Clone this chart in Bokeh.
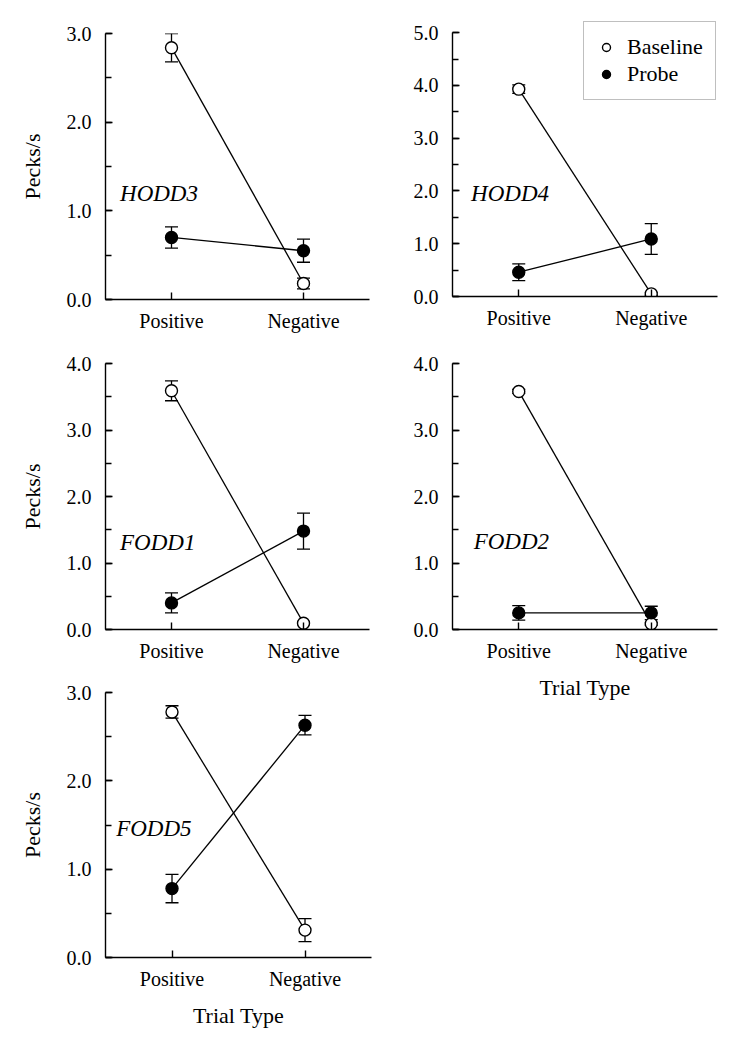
from bokeh.plotting import figure
from bokeh.models import (Range1d, FactorRange, SingleIntervalTicker, PrintfTickFormatter,
                          Whisker, TeeHead, ColumnDataSource, Label, Legend, LegendItem)
from bokeh.layouts import row, column
from bokeh.embed import file_html
from bokeh.resources import INLINE

FONT = "Liberation Serif"

trial_types = ["Positive", "Negative"]
panel_names = ["HODD3", "HODD4", "FODD1", "FODD2", "FODD5"]
y_max = [3.0, 5.0, 4.0, 4.0, 3.0]

# Baseline (open circles): mean and error per panel [Positive, Negative]
baseline_hodd3 = [2.84, 0.18]
baseline_hodd4 = [3.93, 0.05]
baseline_fodd1 = [3.59, 0.095]
baseline_fodd2 = [3.58, 0.085]
baseline_fodd5 = [2.78, 0.31]
baseline_err_hodd3 = [0.16, 0.06]
baseline_err_hodd4 = [0.08, 0.03]
baseline_err_fodd1 = [0.15, 0.02]
baseline_err_fodd2 = [0.03, 0.02]
baseline_err_fodd5 = [0.07, 0.13]

# Probe (filled circles)
probe_hodd3 = [0.70, 0.55]
probe_hodd4 = [0.46, 1.09]
probe_fodd1 = [0.40, 1.48]
probe_fodd2 = [0.25, 0.25]
probe_fodd5 = [0.78, 2.63]
probe_err_hodd3 = [0.12, 0.13]
probe_err_hodd4 = [0.16, 0.29]
probe_err_fodd1 = [0.15, 0.27]
probe_err_fodd2 = [0.11, 0.10]
probe_err_fodd5 = [0.16, 0.11]

baseline = [baseline_hodd3, baseline_hodd4, baseline_fodd1, baseline_fodd2, baseline_fodd5]
baseline_err = [baseline_err_hodd3, baseline_err_hodd4, baseline_err_fodd1, baseline_err_fodd2, baseline_err_fodd5]
probe = [probe_hodd3, probe_hodd4, probe_fodd1, probe_fodd2, probe_fodd5]
probe_err = [probe_err_hodd3, probe_err_hodd4, probe_err_fodd1, probe_err_fodd2, probe_err_fodd5]

# panel label placement (x in categorical synthetic units, y in data units)
label_x = [0.11, 0.14, 0.11, 0.16, 0.08]
label_y = [1.2, 1.95, 1.31, 1.32, 1.46]


def make_panel(i, fw, fh, bl, br, bt, bb, ylabel, xlabel, extra=0.0):
    p = figure(x_range=FactorRange(factors=trial_types, range_padding=0),
               y_range=Range1d(0, y_max[i] + extra),
               frame_width=fw, frame_height=fh,
               min_border_left=bl, min_border_right=br, min_border_top=bt, min_border_bottom=bb,
               output_backend="svg", toolbar_location=None, tools="")
    p.grid.visible = False
    p.outline_line_color = None
    p.background_fill_color = "white"
    p.border_fill_color = "white"

    ya = p.yaxis[0]
    ya.bounds = (0, y_max[i])
    ya.ticker = SingleIntervalTicker(interval=1, num_minor_ticks=2)
    ya.formatter = PrintfTickFormatter(format="%.1f")
    ya.major_tick_in = 7
    ya.major_tick_out = 0
    ya.minor_tick_in = 6
    ya.minor_tick_out = 0
    ya.major_label_standoff = 14
    ya.major_label_text_font = FONT
    ya.major_label_text_font_size = "20px"
    ya.major_label_text_color = "black"
    ya.axis_line_width = 1.4
    ya.major_tick_line_width = 1.4
    ya.minor_tick_line_width = 1.4
    ya.axis_line_color = "black"
    if ylabel:
        ya.axis_label = "Pecks/s"
        ya.axis_label_text_font = FONT
        ya.axis_label_text_font_size = "22px"
        ya.axis_label_text_font_style = "normal"
        ya.axis_label_text_color = "black"
        ya.axis_label_standoff = 19

    xa = p.xaxis[0]
    xa.major_tick_in = 7
    xa.major_tick_out = 0
    xa.major_label_standoff = 10
    xa.major_label_text_font = FONT
    xa.major_label_text_font_size = "20px"
    xa.major_label_text_color = "black"
    xa.axis_line_width = 1.4
    xa.major_tick_line_width = 1.4
    xa.axis_line_color = "black"
    if xlabel:
        xa.axis_label = "Trial Type"
        xa.axis_label_text_font = FONT
        xa.axis_label_text_font_size = "22px"
        xa.axis_label_text_font_style = "normal"
        xa.axis_label_text_color = "black"
        xa.axis_label_standoff = 10

    renderers = []
    for means, errs, fill in [(baseline[i], baseline_err[i], "white"),
                              (probe[i], probe_err[i], "black")]:
        src = ColumnDataSource(dict(x=trial_types,
                                    upper=[m + e for m, e in zip(means, errs)],
                                    lower=[m - e for m, e in zip(means, errs)]))
        w = Whisker(base="x", upper="upper", lower="lower", source=src, level="underlay",
                    line_color="black", line_width=1.3,
                    upper_head=TeeHead(size=13, line_color="black", line_width=1.3),
                    lower_head=TeeHead(size=13, line_color="black", line_width=1.3))
        p.add_layout(w)
        p.line(x=trial_types, y=means, line_color="black", line_width=1.3)
        r = p.scatter(x=trial_types, y=means, marker="circle", size=12,
                      fill_color=fill, line_color="black", line_width=1.4)
        renderers.append(r)

    p.add_layout(Label(x=label_x[i], y=label_y[i], text=panel_names[i],
                       text_font=FONT, text_font_style="italic", text_font_size="23px",
                       text_baseline="middle", text_align="left", text_color="black"))
    return p, renderers


p1, _ = make_panel(0, 264, 266, 105, 10, 33, 39, True, False)
p3, _ = make_panel(2, 264, 266, 104, 11, 25, 39, True, False)
p5, _ = make_panel(4, 266, 265, 104, 9, 24, 80, True, True)
# HODD4: frame extended above 5.0 (axis line still stops at 5.0) so the legend is not clipped
p2, r2 = make_panel(1, 265, 277, 73, 12, 19, 42, False, False, extra=0.25)
p4, _ = make_panel(3, 265, 266, 71, 14, 25, 72, False, True)

legend = Legend(items=[LegendItem(label="Baseline", renderers=[r2[0]]),
                       LegendItem(label="Probe", renderers=[r2[1]])],
                location=(131, 196), padding=12, spacing=1, margin=0,
                label_height=20, glyph_height=20, glyph_width=20, label_standoff=11,
                label_text_font=FONT, label_text_font_size="22px", label_text_color="black",
                border_line_color="#7f7f7f", border_line_width=1,
                background_fill_color="white", background_fill_alpha=1.0)
p2.add_layout(legend)

layout = row(column(p1, p3, p5), column(p2, p4))

open("out.html", "w").write(file_html(layout, INLINE))
